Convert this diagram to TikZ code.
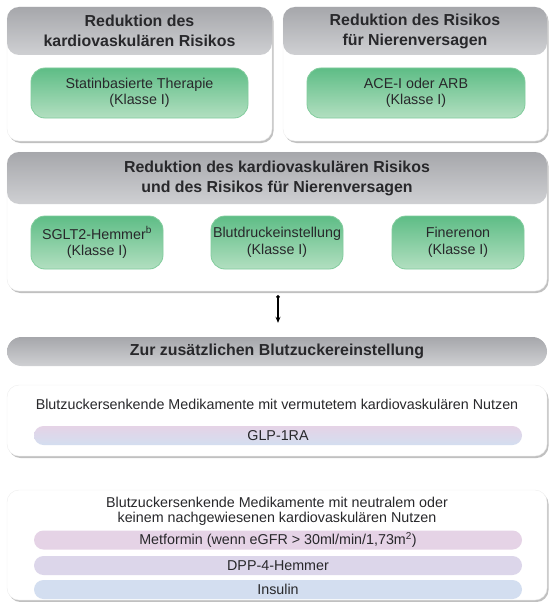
\documentclass[tikz,border=0pt]{standalone}
\usepackage{fontspec}
\setmainfont{Liberation Sans}
\usetikzlibrary{shadows,arrows.meta}
\definecolor{Hdark}{RGB}{166,167,171}
\definecolor{Hlight}{RGB}{207,208,211}
\definecolor{Gdark}{RGB}{94,189,134}
\definecolor{Glight}{RGB}{178,223,192}
\definecolor{Gline}{RGB}{130,204,157}
\definecolor{Mfill}{RGB}{229,211,230}
\definecolor{Dfill}{RGB}{220,214,234}
\definecolor{Ifill}{RGB}{211,222,240}
\definecolor{Tdark}{RGB}{40,40,43}

\begin{document}
\begin{tikzpicture}[x=1pt,y=-1pt,line cap=round,line join=round,
  panel/.style={rounded corners=12pt,draw=black!7,fill=white,inner sep=0pt,
    drop shadow={shadow xshift=1.5pt,shadow yshift=-2pt,opacity=0.45,fill=black!55}},
  head/.style={rounded corners=12pt,top color=Hdark,bottom color=Hlight,inner sep=0pt,
    align=center,text=Tdark,font=\bfseries\fontsize{15.9}{20}\selectfont},
  drug/.style={rounded corners=14pt,top color=Gdark,bottom color=Glight,draw=Gline,
    line width=0.8pt,inner sep=0pt,align=center,text=Tdark,font=\fontsize{14.3}{16.5}\selectfont},
  bar/.style={rounded corners=9.5pt,minimum width=488pt,minimum height=19pt,inner sep=0pt,
    text=Tdark,font=\fontsize{14.3}{16}\selectfont},
  note/.style={align=center,inner sep=0pt,text=Tdark,font=\fontsize{14.3}{15.5}\selectfont}]
\path[use as bounding box] (0,0) rectangle (549,602);
% top row
\node[panel,minimum width=265pt,minimum height=134pt] (cvbox) at (139.5,74) {};
\node[head,minimum width=265pt,minimum height=48pt] (cvhead) at (139.5,31) {Reduktion des\\kardiovaskulären Risikos};
\node[drug,minimum width=217pt,minimum height=50pt] (statin) at (139.5,93) {Statinbasierte Therapie\\(Klasse I)};
\node[panel,minimum width=264pt,minimum height=134pt] (nvbox) at (415,74) {};
\node[head,minimum width=264pt,minimum height=48pt] (nvhead) at (415,31) {Reduktion des Risikos\\für Nierenversagen};
\node[drug,minimum width=218pt,minimum height=50pt] (acei) at (416,93) {ACE-I oder ARB\\(Klasse I)};
% middle panel
\node[panel,minimum width=540pt,minimum height=139pt] (bothbox) at (277,221.5) {};
\node[head,minimum width=540pt,minimum height=52pt] (bothhead) at (277,178) {Reduktion des kardiovaskulären Risikos\\und des Risikos für Nierenversagen};
\node[drug,minimum width=132pt,minimum height=53pt] (sglt) at (97,242.5) {SGLT2-Hemmer\textsuperscript{b}\\(Klasse I)};
\node[drug,minimum width=132pt,minimum height=53pt] (bp) at (277,242.5) {Blutdruckeinstellung\\(Klasse I)};
\node[drug,minimum width=132pt,minimum height=53pt] (finer) at (458,242.5) {Finerenon\\(Klasse I)};
% glucose part
\node[head,rounded corners=14.5pt,minimum width=540pt,minimum height=29pt] (gluhead) at (277,351.5) {Zur zusätzlichen Blutzuckereinstellung};
\draw[line width=1.3pt,{Circle[length=3.5pt]}-{Stealth[length=6pt,width=5pt]},
  shorten <=4pt,shorten >=14pt] (bothbox.south -| 278,0) -- (gluhead.north -| 278,0);
\node[panel,minimum width=540pt,minimum height=71pt] (cvbenefit) at (277,420.5) {};
\node[note] (cvtext) at (277,404) {Blutzuckersenkende Medikamente mit vermutetem kardiovaskulären Nutzen};
\node[bar,top color=Mfill,bottom color=Ifill] (glp) at (278,435.5) {GLP-1RA};
\node[panel,minimum width=540pt,minimum height=110pt] (neutral) at (277,545) {};
\node[note] (neutext) at (277,511.5) {Blutzuckersenkende Medikamente mit neutralem oder\\keinem nachgewiesenen kardiovaskulären Nutzen};
\node[bar,fill=Mfill] (metf) at (278,540) {Metformin (wenn eGFR > 30ml/min/1,73m\textsuperscript{2})};
\node[bar,fill=Dfill] (dpp) at (278,565.5) {DPP-4-Hemmer};
\node[bar,fill=Ifill] (insulin) at (278,589.5) {Insulin};
\end{tikzpicture}
\end{document}
